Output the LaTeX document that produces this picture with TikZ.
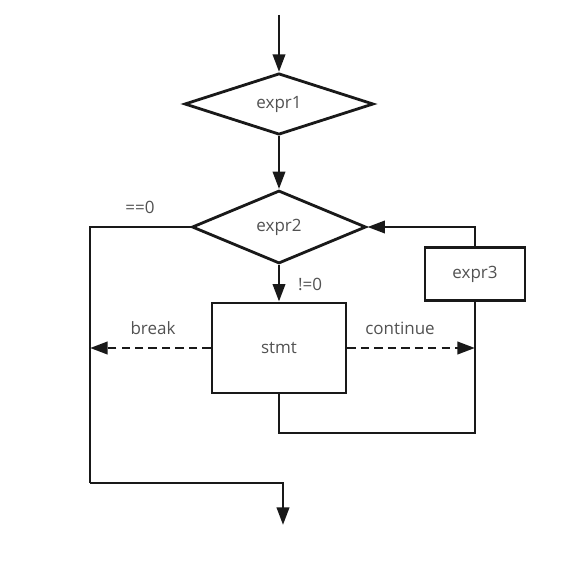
\documentclass[tikz,border=0pt]{standalone}
\usepackage{fontspec}
\setsansfont{Open Sans}
\usetikzlibrary{shapes.geometric, arrows.meta, positioning}
\definecolor{textgray}{rgb}{0.32,0.32,0.32}

\begin{document}
\begin{tikzpicture}[
    x=0.03cm, y=-0.03cm,
    decision/.style={diamond, draw=black!90, line width=2.4pt, inner sep=0pt, font=\sffamily\fontsize{14.5}{17}\selectfont, text=textgray},
    process/.style={rectangle, draw=black!90, line width=2.4pt, inner sep=0pt, font=\sffamily\fontsize{14.5}{17}\selectfont, text=textgray},
    tag/.style={font=\sffamily\fontsize{14.5}{17}\selectfont, text=textgray},
    flow/.style={-{Triangle[length=15pt, width=10.5pt]}, line width=2.4pt, draw=black!90},
    wire/.style={line width=2.4pt, draw=black!90},
    jump/.style={flow, dash pattern=on 7pt off 4.5pt}
]
\useasboundingbox (0,0) rectangle (565,562);

% Nodes
\coordinate (start) at (279,15);
\node[decision, minimum width=5.67cm, minimum height=1.74cm] (expr1) at (279,104) {expr1};
\node[decision, minimum width=5.22cm, minimum height=2.19cm] (expr2) at (279,227) {expr2};
\node[process, minimum width=4.02cm, minimum height=2.7cm] (stmt) at (279,348) {stmt};
\node[process, minimum width=3cm, minimum height=1.59cm] (expr3) at (475,274) {expr3};
\coordinate (leftcorner) at (90,483);
\coordinate (loopcorner) at (475,433);
\coordinate (finish) at (283,525);

% Labels
\node[tag] (zero) at (140,207) {==0};
\node[tag] (nonzero) at (310,284) {!=0};
\node[tag] (brk) at (153,328) {break};
\node[tag] (cont) at (400,328) {continue};

% Edges
\draw[flow] (start) -- (expr1.north);
\draw[flow] (expr1.south) -- (expr2.north);
\draw[flow] (expr2.south) -- (stmt.north);
\draw[wire] (expr2.west) -| (leftcorner);
\draw[flow] (leftcorner) -| (finish);
\draw[jump] (stmt.west) -- (stmt.west -| leftcorner);
\draw[jump] (stmt.east) -- (stmt.east -| expr3.south);
\draw[wire] (stmt.south) |- (loopcorner) -- (expr3.south);
\draw[flow] (expr3.north) |- (expr2.east);

\end{tikzpicture}
\end{document}
